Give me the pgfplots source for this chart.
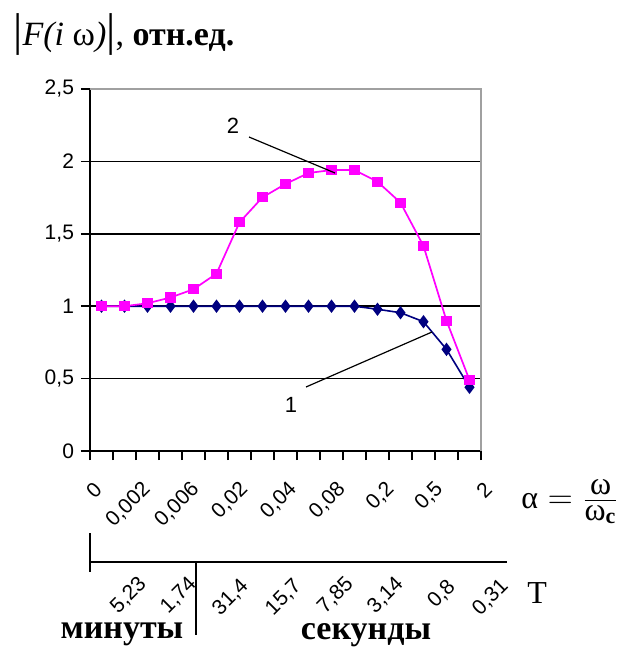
\documentclass[border=0pt]{standalone}
\usepackage{pgfplots}
\pgfplotsset{compat=1.18}
\usepackage{fontspec}
\setmainfont{Liberation Serif}
\newfontfamily\arial{Liberation Sans}
\definecolor{pinkser}{RGB}{255,0,255}
\definecolor{navyser}{RGB}{0,0,128}
\definecolor{frame}{RGB}{160,160,160}
\newcommand{\tickfont}{\arial\fontsize{10.5}{12}\selectfont}

\begin{document}
\begin{tikzpicture}
% page is 630 x 648 px of the reference, 1 px = 0.5pt
\begin{axis}[
    at={(45pt,-225.5pt)}, anchor=south west,
    scale only axis, width=195.5pt, height=181pt,
    xmin=-0.5, xmax=16.5, ymin=0, ymax=2.5,
    axis x line=bottom, axis y line=left,
    axis line style={-, black, line width=0.75pt},
    ytick={0,0.5,1,1.5,2,2.5},
    ymajorgrids, grid style={black, line width=0.75pt},
    xtick={-0.5,0.5,...,16.5}, xticklabels={},
    extra x ticks={-0.48,1.64,3.76,5.88,8.0,10.12,12.24,14.36,16.48},
    extra x tick labels={0,{0,002},{0,006},{0,02},{0,04},{0,08},{0,2},{0,5},2},
    extra x tick style={major tick length=0pt,
      tick label style={xshift=6.3pt, yshift=-15pt, rotate=45, anchor=east}},
    tick align=outside,
    major tick length=4.5pt,
    tick style={black, line width=0.75pt},
    tick label style={font=\tickfont},
    /pgf/number format/.cd, use comma, assume math mode=true,
  ]
  %% curve 1
  \addplot[navyser, line width=0.8pt, mark=diamond*, mark size=2.7pt] coordinates {
    (0,1) (1,1) (2,1) (3,1) (4,1) (5,1) (6,1) (7,1) (8,1) (9,1) (10,1) (11,1)
    (12,0.979) (13,0.955) (14,0.893) (15,0.702) (16,0.44)
  };
  %% curve 2
  \addplot[pinkser, line width=0.85pt, mark=square*, mark size=2.1pt] coordinates {
    (0,1.0) (1,1.0) (2,1.02) (3,1.06) (4,1.117) (5,1.225) (6,1.579) (7,1.752)
    (8,1.844) (9,1.92) (10,1.94) (11,1.94) (12,1.86) (13,1.715) (14,1.416)
    (15,0.90) (16,0.49)
  };
\end{axis}
\begin{scope}[x=0.5pt,y=-0.5pt]
  % grey plot frame
  \draw[frame, line width=1pt] (90,89) -- (481,89) -- (481,451);
  % curve labels
  \draw[black, line width=0.6pt] (249,137) -- (335,173);
  \draw[black, line width=0.6pt] (306,387) -- (432,332);
  \node[font=\arial\fontsize{11}{12}\selectfont, anchor=base] at (233,133) {2};
  \node[font=\arial\fontsize{11}{12}\selectfont, anchor=base] at (291,412) {1};
  % title
  \node[anchor=base west, inner sep=0] at (13,46) {\fontsize{17}{20}\selectfont
    {\fontsize{23}{23}\selectfont|}\textit{F(i} ω\textit{)}{\fontsize{23}{23}\selectfont|}, \textbf{отн.ед.}};
  % alpha
  \node[anchor=west, inner sep=0] at (521,502) {\fontsize{16}{19}\selectfont
    $\mbox{α} = \frac{\mbox{ω}}{\mbox{ω}_{\mbox{\fontsize{11}{12}\selectfont\bfseries c}}}$};
  % period scale
  \draw[black, line width=0.75pt] (90,533) -- (90,572) (90,562) -- (507,562) (196,562) -- (196,635);
  \node[rotate=45, anchor=east, font=\tickfont] at (148,576) {5,23};
  \node[rotate=45, anchor=east, font=\tickfont] at (198,576) {1,74};
  \node[rotate=45, anchor=east, font=\tickfont] at (250,578) {31,4};
  \node[rotate=45, anchor=east, font=\tickfont] at (303,578) {15,7};
  \node[rotate=45, anchor=east, font=\tickfont] at (355,576) {7,85};
  \node[rotate=45, anchor=east, font=\tickfont] at (405,576) {3,14};
  \node[rotate=45, anchor=east, font=\tickfont] at (457,579) {0,8};
  \node[rotate=45, anchor=east, font=\tickfont] at (510,578) {0,31};
  \node[anchor=base west, inner sep=0, font=\fontsize{16}{19}\selectfont] at (527,603) {T};
  \node[anchor=base, font=\bfseries\fontsize{17}{20}\selectfont] at (122,638) {минуты};
  \node[anchor=base, inner sep=0, font=\bfseries\fontsize{17}{20}\selectfont] at (366,639) {секунды};
  % fixed page size
  \pgfresetboundingbox
  \path[use as bounding box] (0,0) rectangle (630,648);
\end{scope}
\end{tikzpicture}
\end{document}
